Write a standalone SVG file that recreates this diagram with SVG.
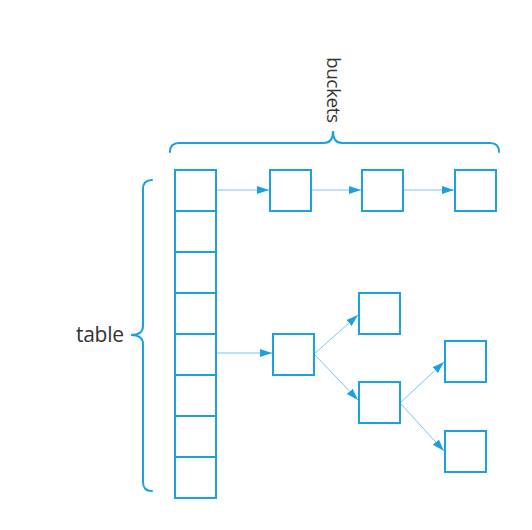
<svg xmlns="http://www.w3.org/2000/svg" width="532" height="530" viewBox="0 0 532 530">
<style>
.box{fill:#fff;stroke:#1ba1e2;stroke-width:2}
.brace{fill:none;stroke:#1ba1e2;stroke-width:2;stroke-linecap:round}
.conn{fill:none;stroke:#1ba1e2;stroke-width:1;stroke-opacity:0.6}
.lbl{font-family:"Open Sans","Noto Sans",sans-serif;font-size:19px;fill:#333}
</style>
<defs>
<marker id="ah" markerUnits="userSpaceOnUse" markerWidth="13" markerHeight="9" refX="12" refY="4" orient="auto">
<path d="M0,0 L12,4 L0,8 z" fill="#1ba1e2"/>
</marker>
</defs>
<rect width="532" height="530" fill="#fff"/>
<g id="buckets-brace">
<path class="brace" d="M170,152 Q170,143 179,143 L324,143 Q333,143 333,131 Q333,143 342,143 L490,143 Q499,143 499,152"/>
<text class="lbl" transform="translate(327,57) rotate(90)" textLength="66" lengthAdjust="spacing">buckets</text>
</g>
<g id="table-brace">
<path class="brace" d="M152,180 Q143,180 143,189 L143,326 Q143,335 131,335 Q143,335 143,344 L143,482 Q143,491 152,491"/>
<text class="lbl" x="76" y="342" style="font-size:21px" textLength="48" lengthAdjust="spacing">table</text>
</g>
<g id="connectors">
<line class="conn" x1="216" y1="190" x2="269" y2="190" marker-end="url(#ah)"/>
<line class="conn" x1="311" y1="190" x2="361" y2="190" marker-end="url(#ah)"/>
<line class="conn" x1="403" y1="190" x2="454" y2="190" marker-end="url(#ah)"/>
<line class="conn" x1="216" y1="353" x2="272" y2="353" marker-end="url(#ah)"/>
<line class="conn" x1="314" y1="354" x2="358" y2="315" marker-end="url(#ah)"/>
<line class="conn" x1="314" y1="354" x2="358" y2="400" marker-end="url(#ah)"/>
<line class="conn" x1="400" y1="403" x2="444" y2="362" marker-end="url(#ah)"/>
<line class="conn" x1="400" y1="403" x2="444" y2="451" marker-end="url(#ah)"/>
</g>
<g id="table">
<rect class="box" x="175" y="170" width="41" height="41"/>
<rect class="box" x="175" y="211" width="41" height="41"/>
<rect class="box" x="175" y="252" width="41" height="41"/>
<rect class="box" x="175" y="293" width="41" height="41"/>
<rect class="box" x="175" y="334" width="41" height="41"/>
<rect class="box" x="175" y="375" width="41" height="41"/>
<rect class="box" x="175" y="416" width="41" height="41"/>
<rect class="box" x="175" y="457" width="41" height="41"/>
</g>
<g id="bucket1"><rect class="box" x="270" y="170" width="41" height="41"/></g>
<g id="bucket2"><rect class="box" x="362" y="170" width="41" height="41"/></g>
<g id="bucket3"><rect class="box" x="455" y="170" width="41" height="41"/></g>
<g id="tree-root"><rect class="box" x="273" y="334" width="41" height="41"/></g>
<g id="tree-a"><rect class="box" x="359" y="293" width="41" height="41"/></g>
<g id="tree-b"><rect class="box" x="359" y="382" width="41" height="41"/></g>
<g id="tree-c"><rect class="box" x="445" y="341" width="41" height="41"/></g>
<g id="tree-d"><rect class="box" x="445" y="431" width="41" height="41"/></g>
</svg>
